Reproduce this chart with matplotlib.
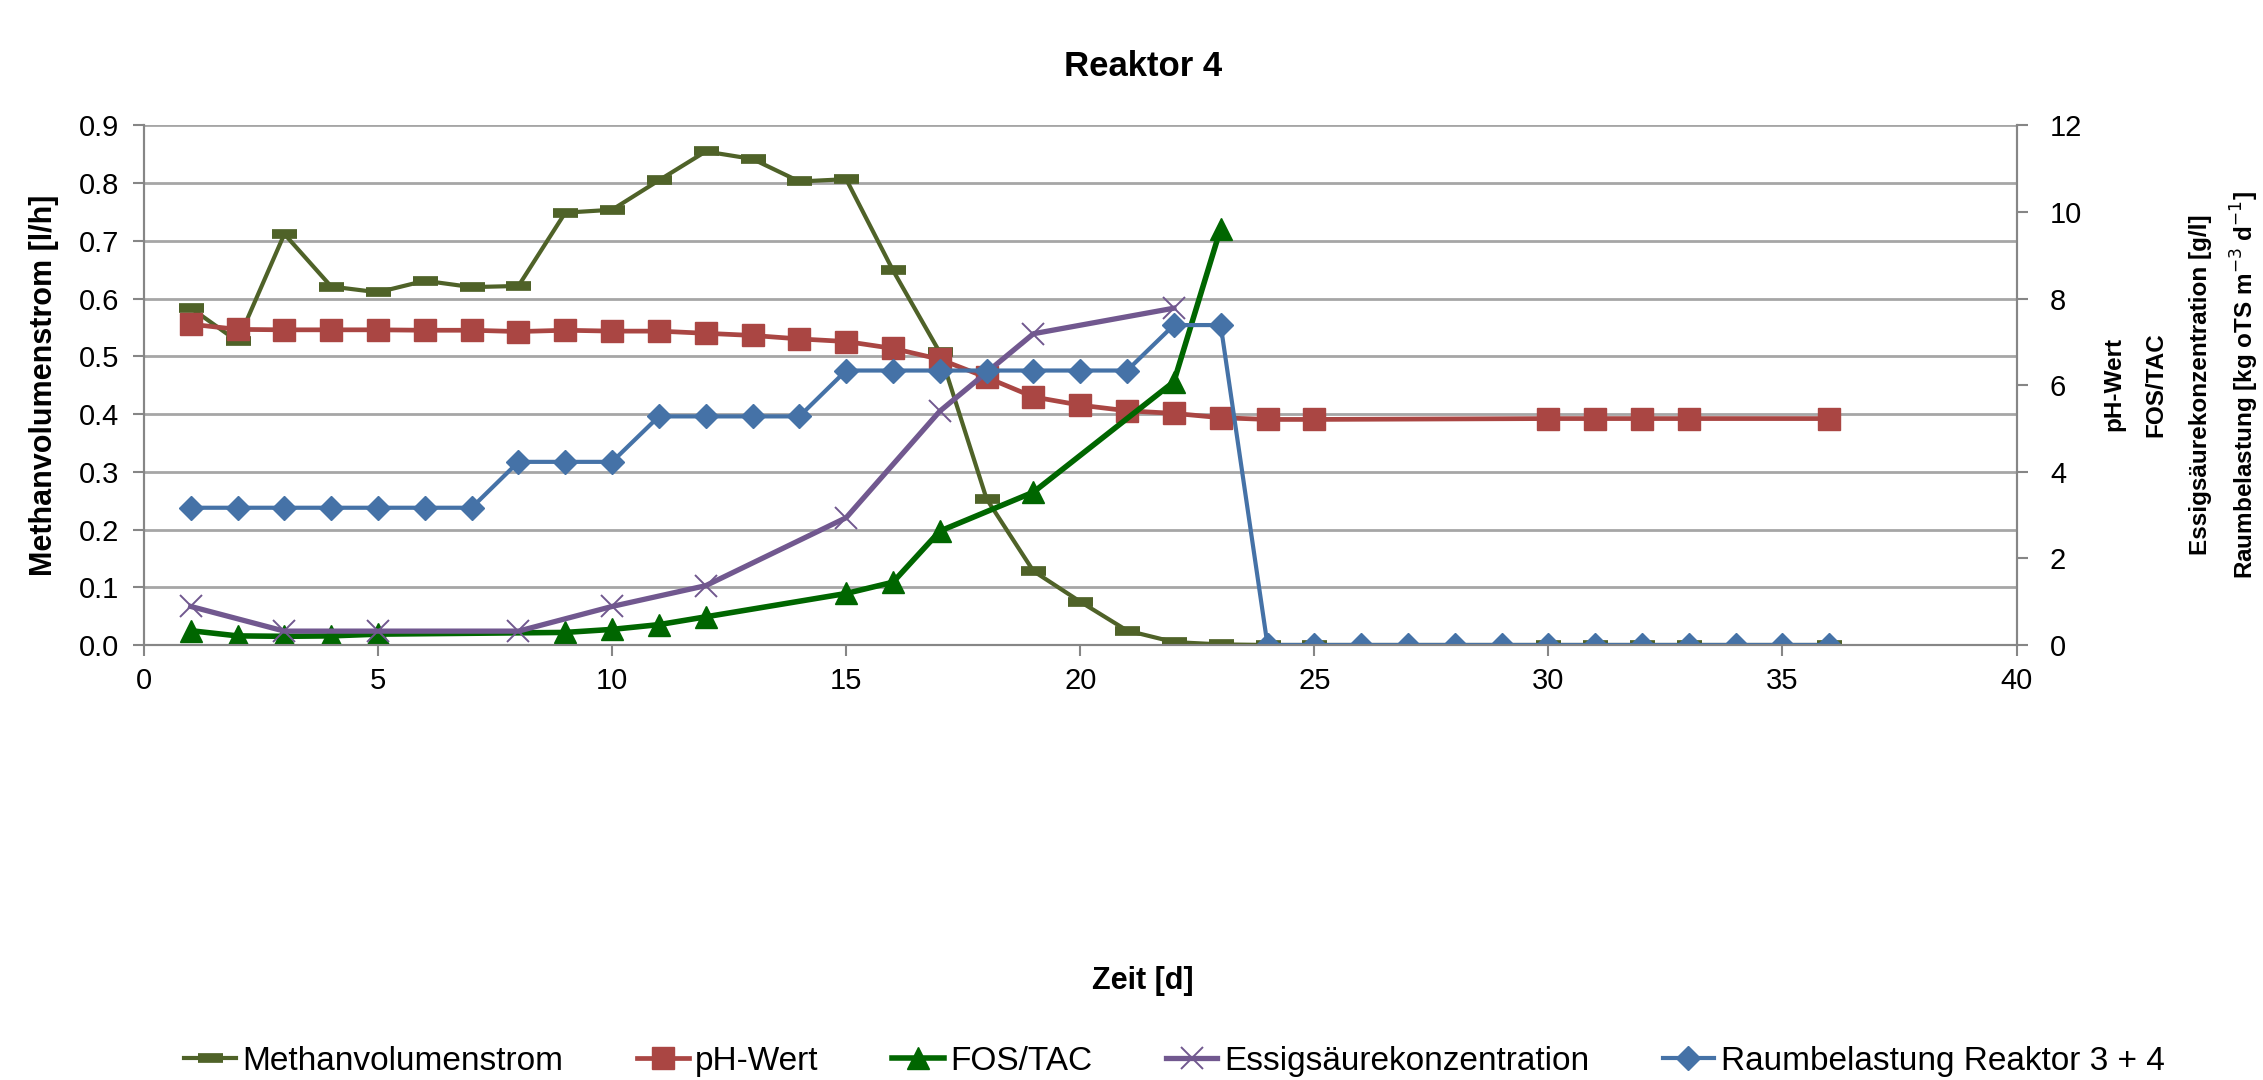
import numpy as np
import matplotlib
matplotlib.use("Agg")
import matplotlib.pyplot as plt
from matplotlib.ticker import FormatStrFormatter

plt.rcParams['font.family'] = ['Liberation Sans', 'DejaVu Sans']

# --- data ---
methan_days = [1, 2, 3, 4, 5, 6, 7, 8, 9, 10, 11, 12, 13, 14, 15, 16, 17, 18, 19, 20,
               21, 22, 23, 24, 25, 30, 31, 32, 33, 36]
methan = [0.584, 0.526, 0.712, 0.621, 0.611, 0.631, 0.620, 0.622, 0.749, 0.754,
          0.805, 0.855, 0.842, 0.803, 0.807, 0.649, 0.507, 0.253, 0.128, 0.075,
          0.025, 0.005, 0.001, 0.0, 0.0, 0.0, 0.0, 0.0, 0.0, 0.0]

ph_days = methan_days
ph = [7.41, 7.29, 7.28, 7.28, 7.28, 7.27, 7.27, 7.24, 7.27, 7.25, 7.25, 7.20, 7.15,
      7.07, 7.01, 6.85, 6.60, 6.18, 5.73, 5.54, 5.41, 5.35, 5.25, 5.21, 5.21,
      5.23, 5.23, 5.23, 5.23, 5.23]

fostac_days = [1, 2, 3, 4, 5, 9, 10, 11, 12, 15, 16, 17, 19, 22, 23]
fostac = [0.33, 0.21, 0.20, 0.21, 0.25, 0.29, 0.36, 0.47, 0.65, 1.19, 1.45, 2.63,
          3.53, 6.08, 9.62]

essig_days = [1, 3, 5, 8, 10, 12, 15, 17, 19, 22]
essig = [0.89, 0.32, 0.32, 0.32, 0.89, 1.37, 2.94, 5.40, 7.19, 7.78]

raum_days = list(range(1, 37))
raum = [3.17] * 7 + [4.23] * 3 + [5.28] * 4 + [6.34] * 7 + [7.39] * 2 + [0.0] * 13

right_label_lines = ['pH-Wert', 'FOS/TAC', 'Essigsäurekonzentration [g/l]',
                     'Raumbelastung [kg oTS m$^{-3}$ d$^{-1}$]']

fig = plt.figure(figsize=(22.63, 10.8), dpi=100)
ax = fig.add_axes([0.0636, 0.4028, 0.8275, 0.481])
ax2 = ax.twinx()

grid_c = '#A6A6A6'
axis_c = '#868686'

ax.set_xlim(0, 40)
ax.set_ylim(0, 0.9)
ax2.set_ylim(0, 12)
ax.set_yticks(np.arange(0, 0.91, 0.1))
ax.yaxis.set_major_formatter(FormatStrFormatter('%.1f'))
ax2.set_yticks(np.arange(0, 13, 2))
ax.set_xticks(np.arange(0, 41, 5))
ax.grid(axis='y', color=grid_c, lw=2)
ax.set_axisbelow(True)

for a in (ax, ax2):
    a.spines['top'].set_visible(False)
    for s in ('left', 'right', 'bottom'):
        a.spines[s].set_color(axis_c)
        a.spines[s].set_linewidth(1.5)
    a.tick_params(colors=axis_c, labelcolor='black', labelsize=21, width=1.5, length=8)
ax.tick_params(axis='y', pad=10)
ax.tick_params(axis='x', pad=8)
ax2.tick_params(axis='y', pad=16)

l1, = ax.plot(methan_days, methan, color='#4F6228', lw=3.0, marker='_', ms=18, mew=7,
              label='Methanvolumenstrom', zorder=3)
l2, = ax2.plot(ph_days, ph, color='#AA4643', lw=3.4, marker='s', ms=16,
               label='pH-Wert')
l3, = ax2.plot(fostac_days, fostac, color='#006600', lw=4.0, marker='^', ms=16,
               label='FOS/TAC')
l4, = ax2.plot(essig_days, essig, color='#71588F', lw=3.8, marker='x', ms=16, mew=1.4,
               label='Essigsäurekonzentration')
l5, = ax2.plot(raum_days, raum, color='#4572A7', lw=3.0, marker='D', ms=12,
               label='Raumbelastung Reaktor 3 + 4')

ax.set_ylabel('Methanvolumenstrom [l/h]', fontsize=22, fontweight='bold', labelpad=14)
fig.text(0.505, 0.0917, 'Zeit [d]', ha='center', va='center', fontsize=22, fontweight='bold')
fig.text(0.505, 0.938, 'Reaktor 4', ha='center', va='center', fontsize=25, fontweight='bold')

# right axis title: four stacked rotated lines
for xf, line in zip([0.9342, 0.9527, 0.9726, 0.9922], right_label_lines):
    fig.text(xf, 0.644, line, rotation=90, ha='center', va='center',
             fontsize=17.5, fontweight='bold')

fig.legend(handles=[l1, l2, l3, l4, l5], loc='center', bbox_to_anchor=(0.519, 0.017),
           ncol=5, frameon=False, fontsize=24, handlelength=1.55, columnspacing=2.2,
           handletextpad=0.2)

fig.savefig('out.png', dpi=100)
